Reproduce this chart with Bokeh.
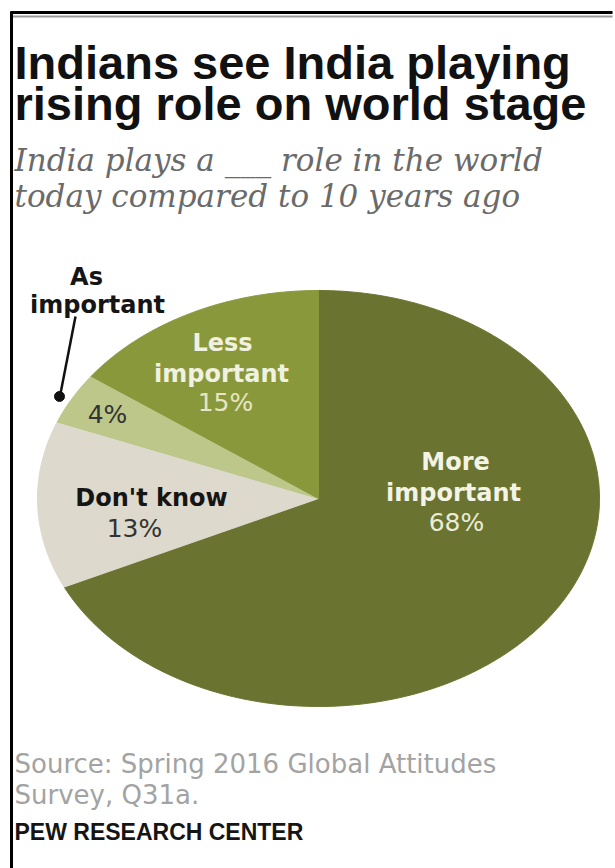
import numpy as np
from bokeh.plotting import figure
from bokeh.models import Range1d
from bokeh.core.properties import value
from bokeh.embed import file_html
from bokeh.resources import INLINE

# ---------------- data ----------------
title_lines = ["Indians see India playing", "rising role on world stage"]
subtitle_lines = ["India plays a ___ role in the world", "today compared to 10 years ago"]
categories = ["More important", "Don't know", "As important", "Less important"]
shares = [68, 13, 4, 15]
slice_colors = ["#6a7430", "#ddd9cc", "#bcc789", "#8a983c"]
source_lines = ["Source: Spring 2016 Global Attitudes", "Survey, Q31a."]
credit = "PEW RESEARCH CENTER"

# ---------------- layout ----------------
W, H = 615, 868
p = figure(width=W, height=H, x_range=Range1d(0, W), y_range=Range1d(H, 0),
           output_backend="svg", toolbar_location=None, min_border=0)
p.axis.visible = False
p.grid.visible = False
p.outline_line_color = None
p.background_fill_color = "white"
p.border_fill_color = "white"

# frame lines
p.line([10, 612], [12, 12], line_color="black", line_width=3)
p.line([12, 612], [16, 16], line_color="#9a9a9a", line_width=2)
p.line([11, 11], [11, H], line_color="black", line_width=3)

# pie (drawn as an ellipse, as in the reference)
cx, cy, rx, ry = 318, 498, 281, 208
fr = np.cumsum([0] + shares) / sum(shares)
xs, ys = [], []
for a, b in zip(fr[:-1], fr[1:]):
    t = np.linspace(a, b, max(int((b - a) * 600), 10))
    ang = np.pi / 2 - 2 * np.pi * t
    xs.append(np.concatenate([[cx], cx + rx * np.cos(ang)]))
    ys.append(np.concatenate([[cy], cy - ry * np.sin(ang)]))
p.patches(xs, ys, fill_color=slice_colors, line_color=slice_colors, line_width=1)

# title
p.text(x=[14, 14], y=[62, 103], text=title_lines, text_font=value("Liberation Sans"),
       text_font_size="47px", text_font_style="bold", text_color="#111111",
       text_align="left", text_baseline="alphabetic")
# subtitle
p.text(x=[14, 14], y=[159, 195], text=subtitle_lines, text_font=value("DejaVu Serif"),
       text_font_size="31px", text_font_style="italic", text_color="#6a6a6a",
       text_align="left", text_baseline="alphabetic")

LF = value("DejaVu Sans")
# category labels (bold)
name_lines = {
    "More important": (["More", "important"], [455, 453], [461, 492], "#f3f3e6"),
    "Don't know": (["Don't know"], [151], [497], "#151515"),
    "As important": (["As", "important"], [86, 97], [276, 304], "#151515"),
    "Less important": (["Less", "important"], [222, 221], [342, 373], "#f1f1e0"),
}
for cat in categories:
    lines, lx, ly, col = name_lines[cat]
    p.text(x=lx, y=ly, text=lines, text_font=LF, text_font_size="24px",
           text_font_style="bold", text_color=col, text_align="center",
           text_baseline="alphabetic")

# percentage labels
pct_pos = {
    "More important": (456, 522, "#ececd8"),
    "Don't know": (134, 528, "#333333"),
    "As important": (107, 414, "#333333"),
    "Less important": (225, 402, "#e6e6c4"),
}
for cat, v in zip(categories, shares):
    px_, py_, col = pct_pos[cat]
    p.text(x=[px_], y=[py_], text=[f"{v}%"], text_font=LF, text_font_size="25px",
           text_color=col, text_align="center", text_baseline="alphabetic")

# leader line for "As important"
p.line([75, 60], [316, 393], line_color="#111111", line_width=2.5)
p.scatter([59], [396], size=10, fill_color="#111111", line_color="#111111")

# source & credit
p.text(x=[14, 14], y=[763, 794], text=source_lines, text_font=LF,
       text_font_size="26px", text_color="#a3a3a3", text_align="left",
       text_baseline="alphabetic")
p.text(x=[14], y=[831], text=[credit], text_font=value("Liberation Sans"),
       text_font_size="23px", text_font_style="bold", text_color="#151515",
       text_align="left", text_baseline="alphabetic")

open("out.html", "w").write(file_html(p, INLINE))
